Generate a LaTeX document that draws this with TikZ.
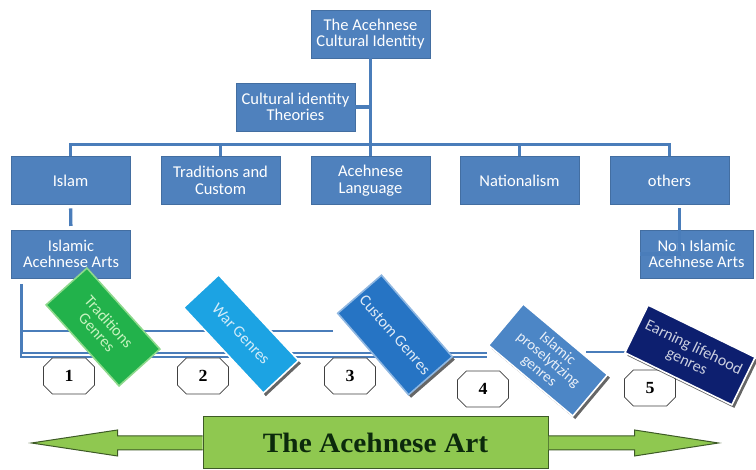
\documentclass[tikz,border=0pt]{standalone}
\usepackage{fontspec}
\setmainfont{Carlito}
\newfontfamily\artfont{Liberation Serif}[FakeStretch=1.05]
\usetikzlibrary{calc, shapes.misc, shadows}
\definecolor{boxblue}{HTML}{4F81BD}
\definecolor{linecol}{HTML}{4A7DBA}
\definecolor{tradgreen}{HTML}{22B24B}
\definecolor{tradedge}{HTML}{8ED98C}
\definecolor{tradtext}{HTML}{C6F3BF}
\definecolor{warblue}{HTML}{1CA3E3}
\definecolor{wartext}{HTML}{D2ECF9}
\definecolor{custblue}{HTML}{2674C4}
\definecolor{custedge}{HTML}{8FB7E1}
\definecolor{isgblue}{HTML}{4C86C6}
\definecolor{earnnavy}{HTML}{0D1F6F}
\definecolor{artgreen}{HTML}{8FC850}
\definecolor{artedge}{HTML}{3D5A26}
\definecolor{arttext}{HTML}{0C2A0C}
\tikzstyle{treenode} = [draw=boxblue!85!black,line width=0.6pt,fill=boxblue,text=white,font=\fontsize{16.5}{16.5}\selectfont,minimum width=119pt,minimum height=48pt,inner sep=0pt,outer sep=0pt,align=center]
\tikzstyle{treeline} = [draw=linecol,line width=3.4pt]
\tikzstyle{busline} = [draw=linecol,line width=1.8pt,double=white,double distance=2.2pt]
\tikzstyle{genrenode} = [draw=white,line width=1.6pt,inner sep=0pt,align=center,font=\fontsize{16}{16}\selectfont]
\tikzstyle{genreshadow} = [drop shadow={shadow xshift=2.5pt,shadow yshift=-3pt,opacity=0.6,fill=black}]
\tikzstyle{numnode} = [draw=black!75,line width=0.7pt,fill=white,chamfered rectangle,chamfered rectangle xsep=10pt,minimum width=51pt,minimum height=36pt,inner sep=0pt,font=\artfont\bfseries\fontsize{17}{17}\selectfont]
\tikzstyle{artarrow} = [draw=artedge,fill=artgreen,line width=1pt,line join=miter]

\begin{document}
\begin{tikzpicture}[x=1pt,y=1pt]
		\useasboundingbox (0,0) rectangle (756,470);

		\node[treenode] (cid) at (370.5,436) {The Acehnese\\Cultural Identity};
		\node[treenode] (cit) at (295.5,363) {Cultural identity\\Theories};
		\node[treenode] (islam) at (70.5,289.5) {Islam};
		\node[treenode] (trad) at (220.5,289.5) {Traditions and\\Custom};
		\node[treenode] (aceh) at (370.5,289.5) {Acehnese\\Language};
		\node[treenode] (nat) at (519.5,289.5) {Nationalism};
		\node[treenode] (others) at (669.5,289.5) {others};
		\node[treenode] (iarts) at (71,216) {Islamic\\Acehnese Arts};
		\node[treenode,minimum width=113pt] (niarts) at (696.5,216) {Non Islamic\\Acehnese Arts};

		\draw[treeline] (cid.south) -- (aceh.north);
		\draw[treeline] (cit.east) -- (cit.east -| cid.south);
		\draw[treeline] (islam.north) -- ++(0,12) -| (others.north);
		\foreach \n in {trad,nat} \draw[treeline] (\n.north) -- ++(0,12);
		\draw[treeline,shorten <=4pt,shorten >=4pt] (islam) -- (iarts);
		\draw[treeline,shorten <=4pt] ([xshift=10pt]others.south) |- (niarts.west);

%		lines under the arts box
		\coordinate (lowA) at (333,139);
		\coordinate (lowB) at (487,115);
		\coordinate (lowD) at (586,118);
		\coordinate (lowE) at (626,118);
		\draw[treeline] ([xshift=10pt,yshift=-6pt]iarts.south west) -- ++(0,-74) coordinate (lowC);
		\draw[treeline,line width=2.6pt] (lowA) -| ([xshift=10pt,yshift=-6pt]iarts.south west);
		\draw[busline] ([yshift=3pt]lowC) -- (lowB);
		\draw[treeline,line width=2.6pt] (lowD) -- (lowE);

		\node[numnode] (n1) at (69,94) {1};
		\node[numnode] (n2) at (203,94) {2};
		\node[numnode] (n3) at (350,94) {3};
		\node[numnode] (n4) at (483,81) {4};
		\node[numnode] (n5) at (650,82) {5};

		\node[genrenode,fill=tradgreen,draw=tradedge,text=tradtext,minimum width=109pt,minimum height=55pt,rotate=-48] (tradg) at (103,143) {Traditions\\Genres};
		\node[genrenode,genreshadow,fill=warblue,text=wartext,minimum width=117pt,minimum height=48pt,rotate=-47] (warg) at (241,136) {War Genres};
		\node[genrenode,genreshadow,fill=custblue,draw=custedge,text=white!85!custblue,minimum width=108pt,minimum height=58pt,rotate=-49] (custg) at (395,135) {Custom Genres};
		\node[genrenode,genreshadow,fill=isgblue,text=white!88!isgblue,minimum width=110pt,minimum height=54pt,rotate=-40,font=\fontsize{15}{14.5}\selectfont] (isg) at (548,110) {Islamic\\proselytizing\\genres};
		\node[genrenode,genreshadow,fill=earnnavy,text=white!78!earnnavy,minimum width=119pt,minimum height=53pt,rotate=-26] (earng) at (690,115) {Earning lifehood\\genres};

		\node[draw=artedge,fill=artgreen,line width=1pt,minimum width=345pt,minimum height=52pt,inner sep=0pt,text=arttext,font=\artfont\bfseries\fontsize{28}{28}\selectfont] (art) at (375.5,27) {The Acehnese Art};
		\draw[artarrow] ([yshift=7pt]art.west) -- ++(-85,0) -- ++(0,6) -- ++(-86,-13) -- ++(86,-13) -- ++(0,6) -- ([yshift=-7pt]art.west);
		\draw[artarrow] ([yshift=7pt]art.east) -- ++(86,0) -- ++(0,6) -- ++(84,-13) -- ++(-84,-13) -- ++(0,6) -- ([yshift=-7pt]art.east);
	\end{tikzpicture}
\end{document}
